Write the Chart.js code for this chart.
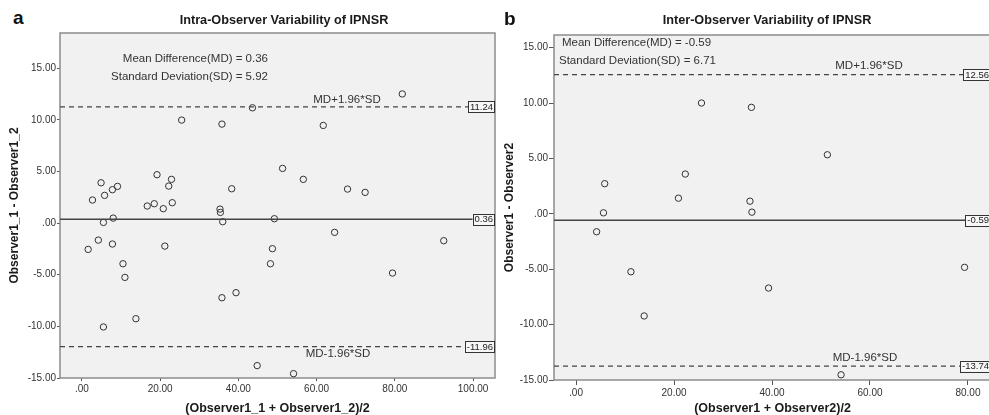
<!DOCTYPE html>
<html>
<head>
<meta charset="utf-8">
<script src="https://cdn.jsdelivr.net/npm/chart.js@4.4.1/dist/chart.umd.min.js"></script>
<style>
  html, body { margin: 0; padding: 0; background: #fff; }
  body { width: 989px; height: 415px; position: relative; overflow: hidden; font-family: "Liberation Sans", Arial, sans-serif; }
  .panel { position: absolute; top: 0; }
  .letter { position: absolute; font-weight: bold; font-size: 19px; line-height: 1; color: #111; }
</style>
</head>
<body>
<div class="letter" style="left:13px; top:8px;">a</div>
<div class="panel" style="left:0; width:497px; height:415px;"><canvas id="cA" width="497" height="415"></canvas></div>
<div class="panel" style="left:490px; width:501px; height:415px;"><canvas id="cB" width="501" height="415"></canvas></div>
<div class="letter" style="left:504px; top:9px;">b</div>
<script>
// ---------- Panel a data ----------
const xA = [81.9,43.6,25.5,35.8,61.7,51.3,56.6,67.9,72.4,38.3,19.2,22.9,22.2,23.1,4.9,5.8,7.8,9.1,2.7,16.7,18.5,20.8,35.3,35.4,36.0,49.2,5.5,8.0,64.6,92.5,4.2,1.6,7.8,21.2,48.7,48.2,10.5,11.0,79.4,39.4,35.8,13.8,5.5,44.8,54.1];
const yA = [12.5,11.16,9.97,9.58,9.45,5.29,4.23,3.29,2.97,3.32,4.68,4.23,3.58,1.97,3.9,2.68,3.23,3.55,2.23,1.65,1.87,1.39,1.35,1.03,0.13,0.42,0.06,0.48,-0.9,-1.71,-1.65,-2.55,-2.03,-2.23,-2.48,-3.94,-3.94,-5.26,-4.84,-6.74,-7.23,-9.26,-10.06,-13.8,-14.58];
const meanA = 0.36, sdA = 5.92, upperA = 11.24, lowerA = -11.96;
const xTicksA = [0,20,40,60,80,100];
const yTicksA = [-15,-10,-5,0,5,10,15];

// ---------- Panel b data ----------
const xB = [25.6,35.8,51.3,22.3,5.85,20.9,35.5,35.9,5.6,4.2,11.2,39.3,13.9,79.3,54.1];
const yB = [10.0,9.61,5.33,3.59,2.72,1.41,1.14,0.15,0.09,-1.62,-5.23,-6.7,-9.22,-4.83,-14.53];
const meanB = -0.59, sdB = 6.71, upperB = 12.56, lowerB = -13.74;
const xTicksB = [0,20,40,60,80];
const yTicksB = [-15,-10,-5,0,5,10,15];

const FONT = "'Liberation Sans', Arial, sans-serif";
const fmtTick = v => (v === 0 ? '.00' : v.toFixed(2));

const decor = {
  id: 'decor',
  beforeDraw(chart, args, o) {
    const {ctx, chartArea: a} = chart;
    ctx.save();
    ctx.fillStyle = '#f1f1f1';
    ctx.fillRect(a.left, a.top, a.right - a.left, a.bottom - a.top);
    ctx.restore();
  },
  beforeDatasetsDraw(chart, args, o) {
    const {ctx, chartArea: a} = chart;
    ctx.save();
    ctx.strokeStyle = '#8c8c8c';
    ctx.lineWidth = 1.5;
    ctx.strokeRect(a.left, a.top, a.right - a.left, a.bottom - a.top);
    ctx.restore();
  },
  afterDraw(chart, args, o) {
    const {ctx, chartArea: a, scales} = chart;
    ctx.save();
    ctx.fillStyle = '#1a1a1a';
    ctx.font = 'bold 12.7px ' + FONT;
    ctx.textAlign = 'center';
    ctx.textBaseline = 'middle';
    ctx.fillText(o.title, o.titleX, 20);
    ctx.font = '11.5px ' + FONT;
    ctx.fillStyle = '#333';
    for (const t of o.texts) {
      ctx.textAlign = t.align;
      ctx.fillText(t.text, t.x, t.y);
    }
    ctx.font = '9.5px ' + FONT;
    ctx.textAlign = 'right';
    for (const v of o.values) {
      const y = scales.y.getPixelForValue(v);
      const s = v.toFixed(2);
      const w = ctx.measureText(s).width + 3;
      const right = a.right - 1;
      ctx.fillStyle = '#f7f7f7';
      ctx.fillRect(right - w, y - 5.5, w, 11);
      ctx.strokeStyle = '#333';
      ctx.lineWidth = 1;
      ctx.strokeRect(Math.round(right - w) + 0.5, Math.round(y - 5.5) + 0.5, Math.round(w), 11);
      ctx.fillStyle = '#222';
      ctx.fillText(s, right - 1, y + 0.5);
    }
    ctx.restore();
  }
};

function makeChart(id, xs, ys, mean, upper, lower, xMin, xMax, yMin, yMax, xTicks, yTicks, xTitle, yTitle, yWidth, yTitlePad, tickLen, deco) {
  const pts = xs.map((x, i) => ({x, y: ys[i]}));
  const hline = (v, dash, w) => ({
    type: 'scatter', showLine: true, data: [{x: xMin, y: v}, {x: xMax, y: v}],
    borderColor: '#444', borderWidth: w, borderDash: dash, pointRadius: 0, pointHoverRadius: 0
  });
  return new Chart(document.getElementById(id), {
    type: 'scatter',
    data: {
      datasets: [
        hline(mean, [], 1.5),
        hline(upper, [5, 4], 1.3),
        hline(lower, [5, 4], 1.3),
        { type: 'scatter', data: pts, pointRadius: 3.2, pointBorderWidth: 1,
          pointBackgroundColor: 'rgba(0,0,0,0)', pointBorderColor: '#333', borderColor: '#333' }
      ]
    },
    options: {
      responsive: false, animation: false, devicePixelRatio: 1,
      layout: { autoPadding: false, padding: { top: deco.top, right: deco.right, bottom: 0, left: 0 } },
      plugins: { legend: { display: false }, tooltip: { enabled: false }, decor: deco },
      scales: {
        x: {
          type: 'linear', min: xMin, max: xMax,
          afterBuildTicks: s => { s.ticks = xTicks.map(v => ({value: v})); },
          afterFit: s => { s.height = 415 - deco.bottom; },
          ticks: { callback: fmtTick, font: { family: FONT, size: 10 }, color: '#333', padding: 2, maxRotation: 0, autoSkip: false },
          grid: { drawOnChartArea: false, drawTicks: true, tickLength: tickLen, color: '#555', lineWidth: 1 },
          border: { display: false },
          title: { display: true, text: xTitle, font: { family: FONT, size: 12.5, weight: 'bold', lineHeight: 1 }, color: '#1a1a1a', padding: { top: 0, bottom: deco.xtPad } }
        },
        y: {
          type: 'linear', min: yMin, max: yMax,
          afterBuildTicks: s => { s.ticks = yTicks.map(v => ({value: v})); },
          afterFit: s => { s.width = yWidth; },
          ticks: { callback: fmtTick, font: { family: FONT, size: 10 }, color: '#333', padding: 1 },
          grid: { drawOnChartArea: false, drawTicks: true, tickLength: tickLen, color: '#555', lineWidth: 1 },
          border: { display: false },
          title: { display: true, text: yTitle, font: { family: FONT, size: 12, weight: 'bold', lineHeight: 1 }, color: '#1a1a1a', padding: { top: yTitlePad, bottom: 0 } }
        }
      }
    },
    plugins: [decor]
  });
}

makeChart('cA', xA, yA, meanA, upperA, lowerA, -5.6, 105.6, -15, 18.4, xTicksA, yTicksA,
  '(Observer1_1 + Observer1_2)/2', 'Observer1_1 - Observer1_2', 60, 9, 3,
  { top: 33, bottom: 378, right: 2, xtPad: 0, title: 'Intra-Observer Variability of IPNSR', titleX: 284,
    values: [upperA, meanA, lowerA],
    texts: [
      { text: 'Mean Difference(MD) = ' + meanA.toFixed(2), x: 268, y: 59, align: 'right' },
      { text: 'Standard Deviation(SD) = ' + sdA.toFixed(2), x: 268, y: 77, align: 'right' },
      { text: 'MD+1.96*SD', x: 347, y: 100, align: 'center' },
      { text: 'MD-1.96*SD', x: 338, y: 354, align: 'center' }
    ] });

makeChart('cB', xB, yB, meanB, upperB, lowerB, -4.5, 84.7, -15, 16.14, xTicksB, yTicksB,
  '(Observer1 + Observer2)/2', 'Observer1 - Observer2', 64, 14, 5,
  { top: 35, bottom: 380, right: 0, xtPad: 0, title: 'Inter-Observer Variability of IPNSR', titleX: 277,
    values: [upperB, meanB, lowerB],
    texts: [
      { text: 'Mean Difference(MD) = ' + meanB.toFixed(2), x: 72, y: 43, align: 'left' },
      { text: 'Standard Deviation(SD) = ' + sdB.toFixed(2), x: 69, y: 61, align: 'left' },
      { text: 'MD+1.96*SD', x: 379, y: 66, align: 'center' },
      { text: 'MD-1.96*SD', x: 375, y: 358, align: 'center' }
    ] });
</script>
</body>
</html>
